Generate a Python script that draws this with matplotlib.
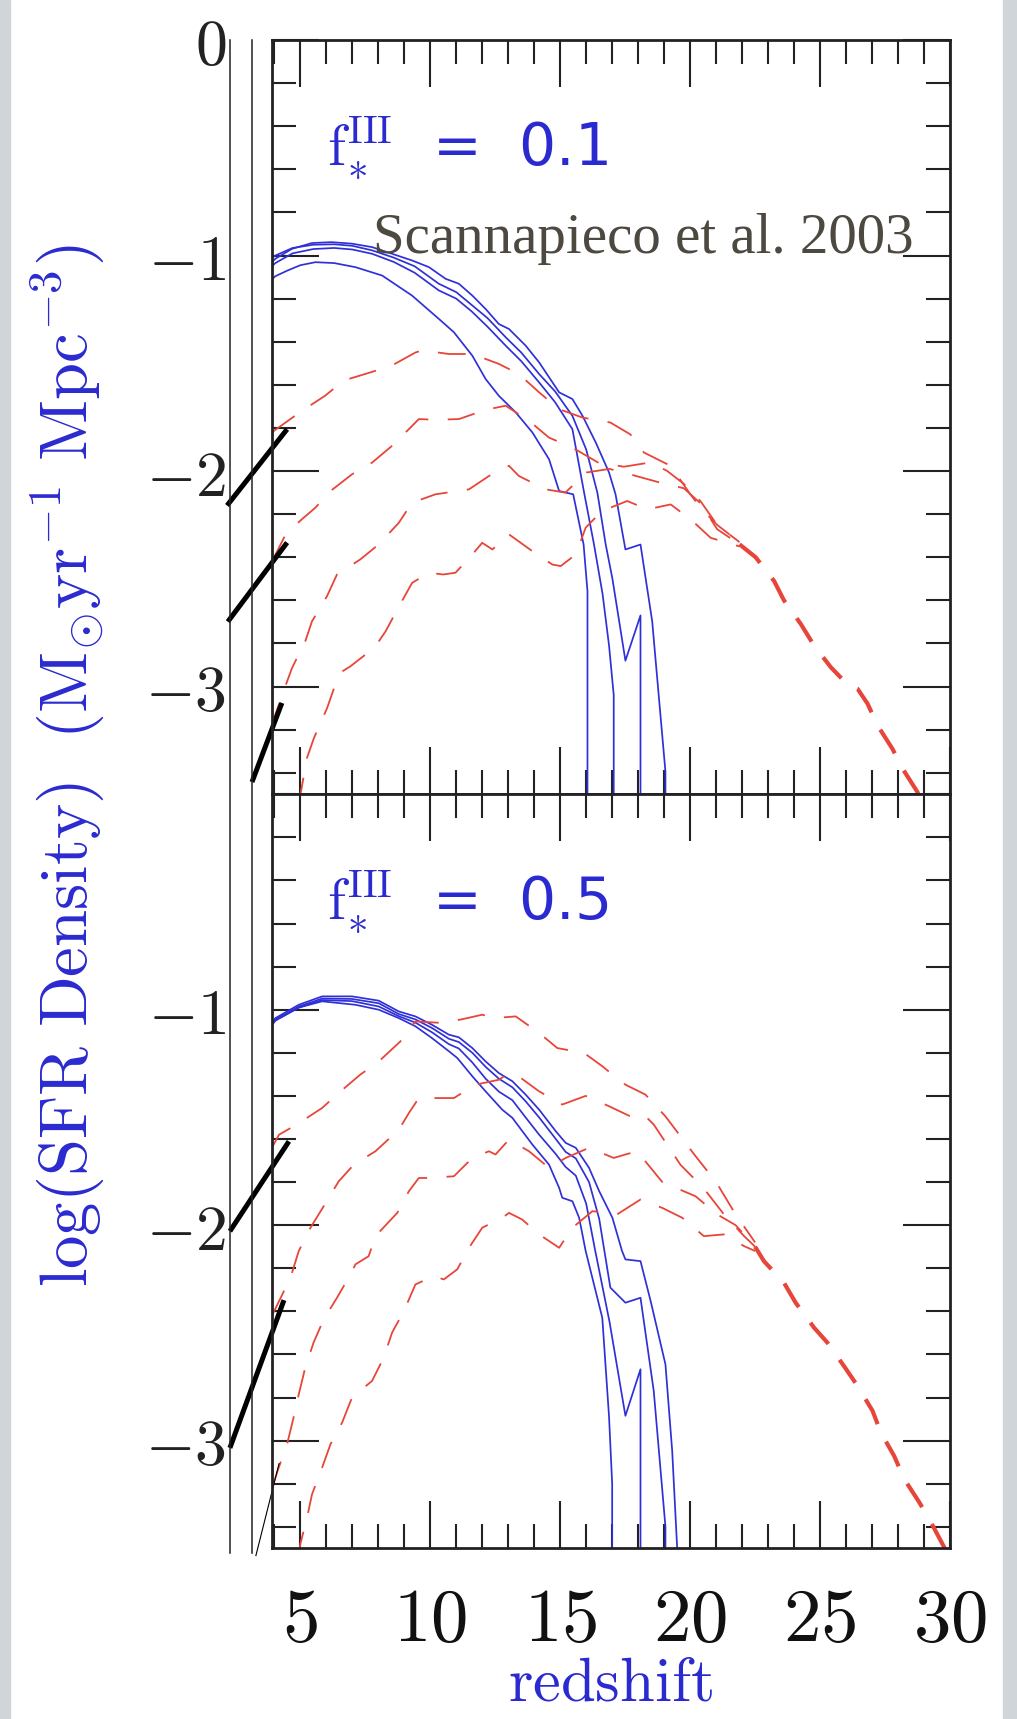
import matplotlib
matplotlib.use("Agg")
import matplotlib.pyplot as plt
from matplotlib.lines import Line2D
from matplotlib.patches import Rectangle
from matplotlib.ticker import MultipleLocator, FixedLocator, FuncFormatter

plt.rcParams['mathtext.fontset'] = 'cm'
plt.rcParams['lines.scale_dashes'] = False

BLUE = '#3030d8'
RED = '#e8453a'
TXT_BLUE = '#2a2ad0'

# ---------------- data ----------------
# upper panel, f_*^III = 0.1 : blue solid curves
tb_a_x = [3.91, 4.04, 4.68, 5.45, 6.2, 6.99, 7.76, 8.53, 9.30, 9.95, 10.59, 11.10, 11.62, 12.13, 12.64,
          13.03, 13.67, 14.19, 14.96, 15.47, 15.86, 16.37, 16.88, 17.13, 17.51, 18.09, 18.54, 19.05, 19.05]
tb_a_y = [-1.03, -1.015, -0.969, -0.942, -0.938, -0.945, -0.961, -0.992, -1.023, -1.054, -1.108, -1.131,
          -1.186, -1.248, -1.318, -1.341, -1.418, -1.496, -1.635, -1.666, -1.744, -1.868, -2.007, -2.108,
          -2.364, -2.341, -2.697, -3.395, -3.6]
tb_b_x = [3.91, 4.04, 4.7, 5.5, 6.3, 7.0, 7.76, 8.6, 9.4, 10.33, 11.0, 11.6, 12.2, 12.9, 13.5, 14.19,
          14.8, 15.47, 16.0, 16.43, 16.75, 17.01, 17.51, 18.09, 18.09]
tb_b_y = [-1.01, -1.0, -0.965, -0.95, -0.948, -0.955, -0.976, -1.01, -1.05, -1.131, -1.17, -1.23, -1.29,
          -1.379, -1.45, -1.55, -1.63, -1.744, -1.90, -2.10, -2.34, -2.50, -2.88, -2.67, -3.6]
tb_c_x = [3.91, 4.04, 4.7, 5.5, 6.3, 7.0, 7.76, 8.6, 9.4, 10.33, 11.0, 11.6, 12.2, 12.9, 13.5, 14.19,
          14.8, 15.47, 15.92, 16.3, 16.63, 16.88, 17.06, 17.06]
tb_c_y = [-1.05, -1.035, -0.99, -0.97, -0.965, -0.972, -0.992, -1.03, -1.08, -1.162, -1.2, -1.26, -1.33,
          -1.418, -1.49, -1.589, -1.68, -1.806, -2.10, -2.34, -2.57, -2.81, -3.04, -3.6]
tb_d_x = [3.91, 4.04, 4.5, 5.0, 5.58, 6.3, 7.12, 8.15, 9.30, 10.33, 10.91, 11.62, 12.13, 12.64, 13.29,
          13.93, 14.57, 14.96, 15.5, 15.9, 16.05, 16.05]
tb_d_y = [-1.11, -1.096, -1.07, -1.045, -1.031, -1.035, -1.054, -1.093, -1.186, -1.294, -1.356, -1.465,
          -1.573, -1.651, -1.728, -1.821, -1.945, -2.093, -2.108, -2.34, -2.558, -3.6]

# upper panel : red dashed curves
tr_a_x = [3.91, 4.49, 5.07, 5.96, 6.67, 7.76, 8.53, 9.43, 9.69, 10.72, 11.62, 12.64, 13.41, 14.19, 14.96,
          15.86, 16.93, 17.7, 18.22, 19.25, 20.02, 20.4, 21.04, 21.9]
tr_a_y = [-1.82, -1.77, -1.72, -1.65, -1.58, -1.54, -1.51, -1.45, -1.44, -1.457, -1.457, -1.503, -1.55,
          -1.635, -1.713, -1.752, -1.775, -1.83, -1.914, -1.976, -2.11, -2.17, -2.25, -2.33]
tr_b_x = [3.91, 4.41, 5.0, 5.58, 6.16, 6.99, 7.76, 8.53, 9.24, 9.56, 10.2, 11.1, 12.13, 12.9, 13.8, 14.57,
          15.47, 16.45, 17.45, 18.48, 19.12, 19.76, 20.4, 21.04, 21.9]
tr_b_y = [-2.42, -2.30, -2.23, -2.17, -2.093, -2.015, -1.961, -1.883, -1.798, -1.759, -1.762, -1.759,
          -1.716, -1.697, -1.767, -1.845, -1.891, -1.96, -1.98, -1.96, -2.0, -2.06, -2.14, -2.25, -2.33]
tr_c_x = [3.91, 4.04, 4.36, 4.68, 5.19, 5.45, 6.03, 6.41, 7.31, 8.02, 8.79, 9.30, 10.2, 11.49, 12.26,
          13.03, 13.41, 14.44, 15.2, 16.0, 16.9, 17.83, 18.73, 19.76, 20.4, 21.04, 21.9]
tr_c_y = [-3.20, -3.13, -3.02, -2.914, -2.79, -2.697, -2.58, -2.48, -2.41, -2.34, -2.24, -2.147, -2.108,
          -2.085, -2.023, -1.976, -2.023, -2.085, -2.10, -2.007, -1.99, -2.02, -2.05, -2.08, -2.15, -2.27, -2.34]
tr_d_x = [4.93, 5.26, 5.52, 6.03, 6.29, 6.61, 6.93, 7.63, 8.02, 8.28, 8.73, 9.30, 9.95, 10.5, 10.97, 11.62,
          12.0, 12.39, 13.03, 13.93, 14.7, 15.02, 15.6, 15.98, 16.6, 17.58, 18.35, 19.25, 20.02, 20.79, 21.9]
tr_d_y = [-3.55, -3.33, -3.24, -3.10, -3.01, -2.93, -2.906, -2.84, -2.79, -2.744, -2.643, -2.519, -2.472,
          -2.48, -2.472, -2.387, -2.333, -2.364, -2.294, -2.372, -2.434, -2.441, -2.387, -2.263, -2.186,
          -2.139, -2.178, -2.155, -2.224, -2.31, -2.35]
# where the four red curves sit on top of each other
tt_x = [21.9, 22.52, 23.23, 23.61, 24.26, 24.77, 25.41, 26.05, 26.44, 26.83, 27.21, 27.79, 28.17, 28.75, 28.95]
tt_y = [-2.34, -2.40, -2.51, -2.60, -2.71, -2.81, -2.91, -2.99, -3.01, -3.08, -3.18, -3.29, -3.38, -3.49, -3.56]

# lower panel, f_*^III = 0.5 : blue solid curves
bb_a_x = [3.91, 4.04, 4.94, 5.84, 6.99, 8.02, 8.79, 9.43, 10.07, 10.72, 11.1, 11.62, 12.13, 12.64, 13.16,
          13.67, 14.19, 14.83, 15.21, 15.6, 16.11, 16.5, 17.01, 17.38, 17.51, 18.09, 18.48, 19.05, 19.31,
          19.5, 19.5]
bb_a_y = [-1.06, -1.039, -0.977, -0.938, -0.938, -0.958, -1.008, -1.031, -1.07, -1.116, -1.128, -1.178,
          -1.24, -1.294, -1.332, -1.394, -1.464, -1.564, -1.618, -1.641, -1.734, -1.842, -1.966, -2.12,
          -2.159, -2.167, -2.352, -2.646, -3.048, -3.496, -3.6]
bb_b_x = [3.91, 4.04, 4.94, 5.84, 6.99, 8.02, 8.79, 9.43, 10.07, 10.72, 11.1, 11.62, 12.13, 12.64, 13.16,
          13.67, 14.19, 14.83, 15.21, 15.6, 16.11, 16.5, 16.93, 17.51, 18.09, 18.6, 19.05, 19.05]
bb_b_y = [-1.06, -1.045, -0.985, -0.948, -0.95, -0.97, -1.02, -1.045, -1.085, -1.135, -1.15, -1.2, -1.265,
          -1.32, -1.36, -1.425, -1.5, -1.6, -1.66, -1.69, -1.8, -1.97, -2.29, -2.36, -2.337, -2.77, -3.4, -3.6]
bb_c_x = [3.91, 4.04, 4.94, 5.84, 6.99, 8.02, 8.79, 9.43, 10.07, 10.72, 11.1, 11.62, 12.13, 12.64, 13.16,
          13.67, 14.19, 14.83, 15.21, 15.6, 16.0, 16.35, 16.9, 17.51, 18.09, 18.09]
bb_c_y = [-1.07, -1.05, -0.99, -0.955, -0.96, -0.985, -1.03, -1.06, -1.105, -1.16, -1.18, -1.245, -1.32,
          -1.38, -1.42, -1.5, -1.58, -1.67, -1.73, -1.77, -1.9, -2.12, -2.45, -2.885, -2.669, -3.6]
bb_d_x = [3.91, 4.04, 4.94, 5.84, 7.12, 8.02, 8.79, 9.43, 10.07, 10.72, 11.04, 11.62, 12.13, 12.77, 13.16,
          13.93, 14.57, 14.96, 15.08, 15.47, 15.73, 15.98, 16.62, 16.88, 17.0, 17.0]
bb_d_y = [-1.07, -1.05, -0.99, -0.961, -0.977, -1.0, -1.039, -1.077, -1.132, -1.193, -1.224, -1.309,
          -1.379, -1.464, -1.502, -1.626, -1.719, -1.827, -1.873, -1.889, -1.966, -2.12, -2.43, -2.89, -3.2, -3.6]

# lower panel : red dashed curves
br_a_x = [3.91, 4.18, 4.9, 5.84, 6.48, 7.31, 8.02, 8.85, 9.43, 10.52, 11.42, 12.0, 12.45, 13.29, 14.19,
          14.89, 15.92, 16.63, 17.01, 17.51, 18.28, 19.05, 20.21, 21.0, 21.75, 22.5]
br_a_y = [-1.64, -1.58, -1.53, -1.456, -1.386, -1.301, -1.24, -1.147, -1.054, -1.062, -1.039, -1.023,
          -1.039, -1.031, -1.108, -1.178, -1.201, -1.263, -1.301, -1.348, -1.394, -1.495, -1.68, -1.80,
          -1.95, -2.08]
br_b_x = [3.91, 4.62, 4.94, 5.39, 5.9, 6.48, 7.06, 7.89, 8.79, 9.18, 9.56, 9.95, 10.91, 11.74, 12.64,
          13.03, 13.41, 14.19, 15.08, 15.98, 16.88, 17.7, 18.22, 18.6, 19.63, 20.53, 21.3, 22.07, 22.5]
br_b_y = [-2.42, -2.244, -2.12, -2.012, -1.912, -1.796, -1.719, -1.657, -1.557, -1.479, -1.41, -1.41,
          -1.41, -1.348, -1.325, -1.294, -1.31, -1.379, -1.44, -1.40, -1.448, -1.495, -1.487, -1.533,
          -1.72, -1.83, -1.95, -2.05, -2.1]
br_c_x = [3.91, 4.17, 4.49, 4.74, 4.94, 5.19, 5.51, 5.9, 6.41, 6.93, 7.12, 7.63, 7.89, 8.73, 9.18, 9.56,
          9.95, 10.91, 11.62, 12.26, 12.51, 13.03, 13.8, 14.57, 15.21, 16.11, 17.06, 17.51, 17.96, 18.93,
          20.21, 21.04, 21.75, 22.5]
br_c_y = [-3.22, -3.125, -3.017, -2.893, -2.785, -2.661, -2.545, -2.437, -2.337, -2.229, -2.182, -2.144,
          -2.051, -1.943, -1.842, -1.781, -1.781, -1.773, -1.688, -1.657, -1.672, -1.603, -1.657, -1.734,
          -1.688, -1.641, -1.688, -1.672, -1.657, -1.80, -1.866, -1.95, -2.0, -2.1]
br_d_x = [4.93, 5.0, 5.26, 5.45, 5.84, 6.16, 6.61, 6.99, 7.76, 8.21, 8.53, 8.98, 9.43, 10.14, 10.52, 11.04,
          11.49, 12.0, 12.77, 13.03, 13.54, 14.19, 14.96, 15.47, 16.24, 17.19, 18.09, 18.93, 19.7, 20.53,
          21.3, 22.07, 22.5]
br_d_y = [-3.55, -3.48, -3.357, -3.249, -3.125, -3.017, -2.916, -2.8, -2.723, -2.615, -2.499, -2.4,
          -2.275, -2.236, -2.252, -2.205, -2.105, -2.012, -1.966, -1.943, -1.974, -2.043, -2.105, -2.012,
          -1.935, -1.95, -1.881, -1.92, -1.966, -2.051, -2.043, -2.097, -2.12]
bt_x = [22.5, 22.84, 23.61, 24.06, 24.77, 25.28, 25.92, 26.44, 27.02, 27.34, 27.85, 28.24, 28.82, 29.27,
        29.78, 29.9]
bt_y = [-2.10, -2.167, -2.267, -2.36, -2.476, -2.545, -2.654, -2.746, -2.862, -2.963, -3.071, -3.179,
        -3.287, -3.38, -3.496, -3.55]

x_major = [5, 10, 15, 20, 25, 30]
top_yticks = [-3, -2, -1, 0]
bot_yticks = [-3, -2, -1]
panel_labels = ['0.1', '0.5']

# ---------------- figure ----------------
W, H = 1017, 1719
fig = plt.figure(figsize=(W / 100, H / 100), dpi=100)
ax_top = fig.add_axes([272 / W, 1 - 794.3 / H, 678 / W, 754.3 / H])
ax_bot = fig.add_axes([272 / W, 1 - 1548.3 / H, 678 / W, 754 / H])

# grey slide borders
fig.patches.append(Rectangle((0, 0), 10 / W, 1, transform=fig.transFigure, color='#cfd5d9', zorder=-5))
fig.patches.append(Rectangle((1003 / W, 0), 14 / W, 1, transform=fig.transFigure, color='#cfd5d9', zorder=-5))


def tick_fmt(v, pos):
    return '$%d$' % int(round(v))


def draw_panel(ax, blues, reds, tail, yticks, label):
    for x, y in blues:
        ax.plot(x, y, color=BLUE, lw=1.25)
    for x, y in reds:
        ax.plot(x, y, color=RED, lw=1.3, dashes=(20, 14))
    ax.plot(tail[0], tail[1], color=RED, lw=3.0, dashes=(20, 14))

    ax.set_xlim(3.91, 30)
    ax.set_ylim(-3.5, 0)
    ax.xaxis.set_major_locator(FixedLocator(x_major))
    ax.xaxis.set_minor_locator(MultipleLocator(1))
    ax.yaxis.set_major_locator(FixedLocator(yticks))
    ax.yaxis.set_minor_locator(MultipleLocator(0.2))
    ax.xaxis.set_major_formatter(FuncFormatter(tick_fmt))
    ax.yaxis.set_major_formatter(FuncFormatter(tick_fmt))
    ax.tick_params(which='both', direction='in', top=True, right=True, width=1.5, color='#222222')
    ax.tick_params(which='major', length=34)
    ax.tick_params(which='minor', length=17)
    ax.tick_params(axis='y', which='major', pad=33, labelsize=46, labelcolor='#222222')
    ax.tick_params(axis='x', which='major', pad=26, labelsize=54, labelcolor='#111111')
    for sp in ax.spines.values():
        sp.set_linewidth(2.0)
        sp.set_color('#222222')

    ax.text(0.081, 0.834, r'$\mathrm{f}_{*}^{\mathrm{III}}$  =  ' + label, transform=ax.transAxes,
            fontsize=42, color=TXT_BLUE, family='DejaVu Sans', va='baseline', ha='left')


draw_panel(ax_top,
           [(tb_a_x, tb_a_y), (tb_b_x, tb_b_y), (tb_c_x, tb_c_y), (tb_d_x, tb_d_y)],
           [(tr_a_x, tr_a_y), (tr_b_x, tr_b_y), (tr_c_x, tr_c_y), (tr_d_x, tr_d_y)],
           (tt_x, tt_y), top_yticks, panel_labels[0])
draw_panel(ax_bot,
           [(bb_a_x, bb_a_y), (bb_b_x, bb_b_y), (bb_c_x, bb_c_y), (bb_d_x, bb_d_y)],
           [(br_a_x, br_a_y), (br_b_x, br_b_y), (br_c_x, br_c_y), (br_d_x, br_d_y)],
           (bt_x, bt_y), bot_yticks, panel_labels[1])
ax_top.tick_params(axis='x', labelbottom=False)

# leftover broken-axis strokes from the slide
for (x0, y0), (x1, y1) in [((2.18, -2.16), (4.49, -1.806)), ((2.21, -2.699), (4.49, -2.332)),
                           ((3.14, -3.443), (4.29, -3.076))]:
    ax_top.plot([x0, x1], [y0, y1], color='black', lw=3.6, clip_on=False, solid_capstyle='butt')
for (x0, y0), (x1, y1) in [((2.29, -2.028), (4.56, -1.611)), ((2.29, -3.034), (4.37, -2.348))]:
    ax_bot.plot([x0, x1], [y0, y1], color='black', lw=3.6, clip_on=False, solid_capstyle='butt')
ax_bot.plot([3.29, 4.18], [-3.534, -3.107], color='black', lw=0.8, clip_on=False)
for xpx in (230, 252):
    fig.add_artist(Line2D([xpx / W, xpx / W], [1 - 40 / H, 1 - 1553 / H], transform=fig.transFigure,
                          color='#222222', lw=1.1))

# axis titles
fig.text(68 / W, 1 - 766 / H, r'$\mathrm{log(SFR\ Density)\ \ (M_{\odot}yr^{-1}\ Mpc^{-3})}$',
         rotation=90, ha='center', va='center', fontsize=48, color=TXT_BLUE)
fig.text(611 / W, 1 - 1700 / H, r'$\mathrm{redshift}$', ha='center', va='baseline', fontsize=45,
         color=TXT_BLUE)

fig.text(373 / W, 1 - 253 / H, 'Scannapieco et al. 2003', family='Liberation Serif', fontsize=41,
         color='#4d4840', ha='left', va='baseline')

fig.savefig('out.png', dpi=100)
